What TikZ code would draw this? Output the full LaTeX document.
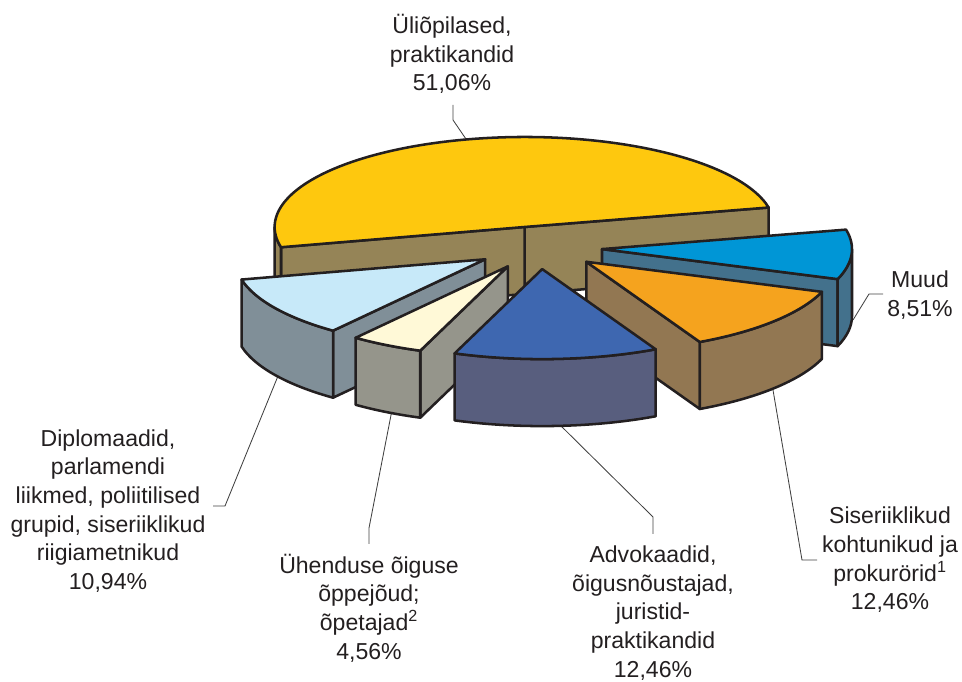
\documentclass[tikz,border=0pt]{standalone}
\usepackage{fontspec}
\setmainfont{Liberation Sans}
\usetikzlibrary{calc}

\definecolor{edge}{HTML}{231F20}
\definecolor{txt}{HTML}{231F20}
\definecolor{lead}{HTML}{404040}
\definecolor{yTop}{HTML}{FEC80E}
\definecolor{ySide}{HTML}{958457}
\definecolor{mTop}{HTML}{0096D6}
\definecolor{mSide}{HTML}{43718C}
\definecolor{oTop}{HTML}{F5A31E}
\definecolor{oSide}{HTML}{927752}
\definecolor{dTop}{HTML}{3E67B0}
\definecolor{dSide}{HTML}{585E7E}
\definecolor{cTop}{HTML}{FFF9D7}
\definecolor{cSide}{HTML}{95958B}
\definecolor{lTop}{HTML}{C7E9F9}
\definecolor{lSide}{HTML}{808F98}

\begin{document}
\begin{tikzpicture}[x=0.025cm, y=0.025cm,
	every node/.style={align=center, inner sep=0pt, text=txt, font=\fontsize{16.4}{20.4}\selectfont},
	face/.style={draw=edge, line width=1.8pt, line join=round},
	leader/.style={draw=lead, line width=0.6pt},
	rad/.style={x radius=250, y radius=90}]
			\useasboundingbox (0,0) rectangle (962,682);
			
			% labels
			\node (uliLbl) at (452,628) {Üliõpilased,\\praktikandid\\51,06\%};
			\node (muudLbl) at (920,387) {Muud\\8,51\%};
			\node (kohtLbl) at (890,122) {Siseriiklikud\\kohtunikud ja\\prokurörid\textsuperscript{1}\hspace*{1.3em}\\12,46\%};
			\node (advLbl) at (653,69) {Advokaadid,\\õigusnõustajad,\\juristid-\\praktikandid\\12,46\%};
			\node (uhLbl) at (369,74) {Ühenduse õiguse\\õppejõud;\\õpetajad\textsuperscript{2}\hspace*{0.8em}\\4,56\%};
			\node (dipLbl) at (108,171) {Diplomaadid,\\parlamendi\\liikmed, poliitilised\\grupid, siseriiklikud\\riigiametnikud\\10,94\%};
			
			% leader lines
			\coordinate (uliEnd) at (453,577);
			\coordinate (uliBend) at (453,562);
			\coordinate (uliTip) at (468,540);
			\coordinate (muudEnd) at (883,388);
			\coordinate (muudBend) at (869,388);
			\coordinate (muudTip) at (853,362);
			\coordinate (kohtEnd) at (817,122);
			\coordinate (kohtBend) at (802,122);
			\coordinate (kohtTip) at (773,292);
			\coordinate (advEnd) at (653,148);
			\coordinate (advBend) at (653,165);
			\coordinate (advTip) at (557,260);
			\coordinate (uhEnd) at (369,138);
			\coordinate (uhBend) at (369,154);
			\coordinate (uhTip) at (392,272);
			\coordinate (dipEnd) at (213,176);
			\coordinate (dipBend) at (225,176);
			\coordinate (dipTip) at (278,306);
			
			\draw[leader] (uliEnd) -- (uliBend) -- (uliTip);
			\draw[leader] (muudEnd) -- (muudBend) -- (muudTip);
			\draw[leader] (kohtEnd) -- (kohtBend) -- (kohtTip);
			\draw[leader] (advEnd) -- (advBend) -- (advTip);
			\draw[leader] (uhEnd) -- (uhBend) -- (uhTip);
			\draw[leader] (dipEnd) -- (dipBend) -- (dipTip);
			
			% slice apexes
			\coordinate (yA) at (524.6,455);
			\coordinate (mA) at (602,432.9);
			\coordinate (oA) at (586.3,420.2);
			\coordinate (dA) at (542.2,412.9);
			\coordinate (cA) at (507.8,415.6);
			\coordinate (lA) at (485.2,422.7);
			
			% Üliõpilased
			\filldraw[face, fill=ySide] (yA) -- ++(12.5:250 and 90) -- ++(0,-67) -- ($(yA)+(0,-67)$) -- cycle;
			\filldraw[face, fill=ySide] (yA) -- ++(193:250 and 90) -- ++(0,-67) -- ($(yA)+(0,-67)$) -- cycle;
			\filldraw[face, fill=ySide] ($(yA)+(180:250 and 90)$) arc[rad, start angle=180, end angle=193] -- ++(0,-67) arc[rad, start angle=193, end angle=180] -- cycle;
			\filldraw[face, fill=yTop] (yA) -- ++(12.5:250 and 90) arc[rad, start angle=12.5, end angle=193] -- cycle;
			
			% Muud
			\filldraw[face, fill=mSide] (mA) -- ++(-19.5:250 and 90) -- ++(0,-67) -- ($(mA)+(0,-67)$) -- cycle;
			\filldraw[face, fill=mSide] ($(mA)+(-19.5:250 and 90)$) arc[rad, start angle=-19.5, end angle=0] -- ++(0,-67) arc[rad, start angle=0, end angle=-19.5] -- cycle;
			\filldraw[face, fill=mTop] (mA) -- ++(-19.5:250 and 90) arc[rad, start angle=-19.5, end angle=12.5] -- cycle;
			
			% kohtunikud ja prokurörid
			\filldraw[face, fill=oSide] (oA) -- ++(-63:250 and 90) -- ++(0,-67) -- ($(oA)+(0,-67)$) -- cycle;
			\filldraw[face, fill=oSide] ($(oA)+(-63:250 and 90)$) arc[rad, start angle=-63, end angle=-19.5] -- ++(0,-67) arc[rad, start angle=-19.5, end angle=-63] -- cycle;
			\filldraw[face, fill=oTop] (oA) -- ++(-63:250 and 90) arc[rad, start angle=-63, end angle=-19.5] -- cycle;
			
			% Diplomaadid
			\filldraw[face, fill=lSide] (lA) -- ++(-127.5:250 and 90) -- ++(0,-67) -- ($(lA)+(0,-67)$) -- cycle;
			\filldraw[face, fill=lSide] ($(lA)+(-167:250 and 90)$) arc[rad, start angle=-167, end angle=-127.5] -- ++(0,-67) arc[rad, start angle=-127.5, end angle=-167] -- cycle;
			\filldraw[face, fill=lTop] (lA) -- ++(-167:250 and 90) arc[rad, start angle=-167, end angle=-127.5] -- cycle;
			
			% Ühenduse õiguse õppejõud
			\filldraw[face, fill=cSide] (cA) -- ++(-110.5:250 and 90) -- ++(0,-67) -- ($(cA)+(0,-67)$) -- cycle;
			\filldraw[face, fill=cSide] ($(cA)+(-127.5:250 and 90)$) arc[rad, start angle=-127.5, end angle=-110.5] -- ++(0,-67) arc[rad, start angle=-110.5, end angle=-127.5] -- cycle;
			\filldraw[face, fill=cTop] (cA) -- ++(-127.5:250 and 90) arc[rad, start angle=-127.5, end angle=-110.5] -- cycle;
			
			% Advokaadid
			\filldraw[face, fill=dSide] ($(dA)+(-110.5:250 and 90)$) arc[rad, start angle=-110.5, end angle=-63] -- ++(0,-67) arc[rad, start angle=-63, end angle=-110.5] -- cycle;
			\filldraw[face, fill=dTop] (dA) -- ++(-110.5:250 and 90) arc[rad, start angle=-110.5, end angle=-63] -- cycle;
		\end{tikzpicture}
\end{document}
